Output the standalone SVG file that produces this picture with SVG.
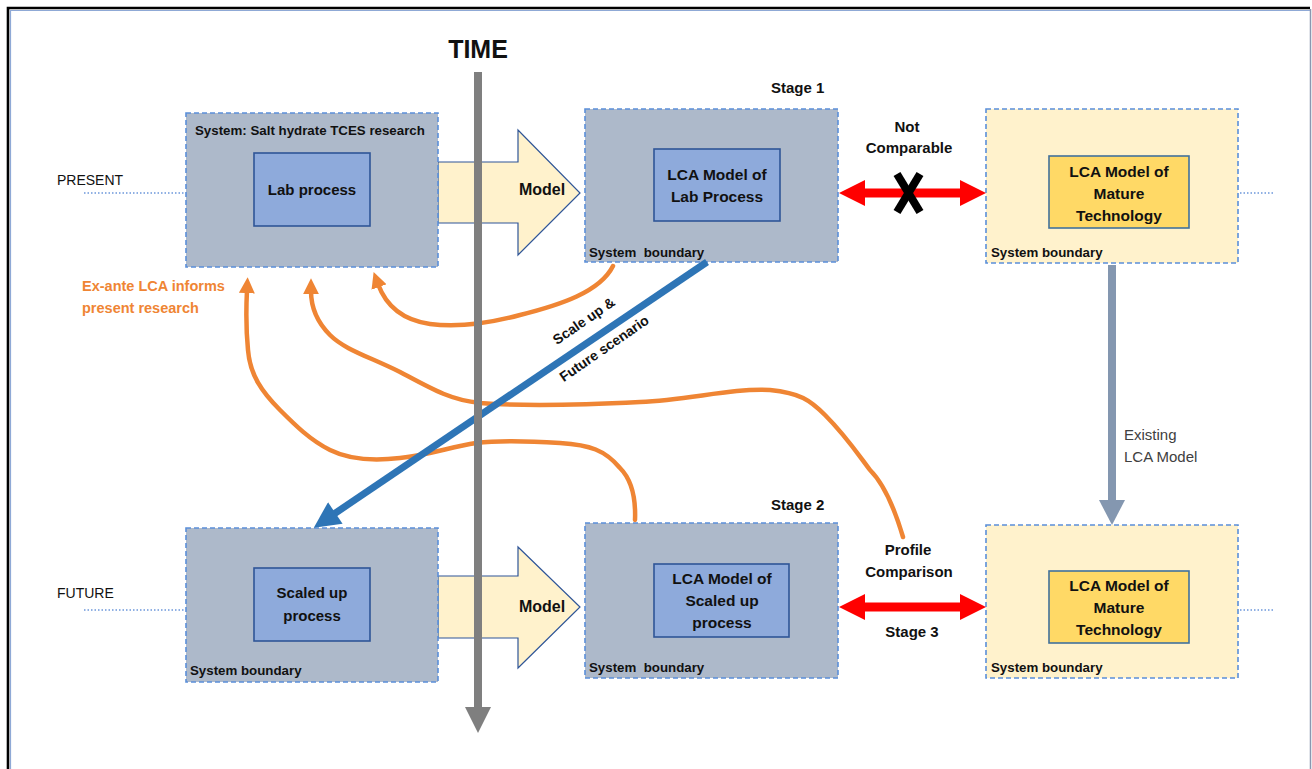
<svg xmlns="http://www.w3.org/2000/svg" width="1312" height="769" viewBox="0 0 1312 769">
<defs>
<style>
.t{font-family:"Liberation Sans",Arial,sans-serif;fill:#111}
.b{font-weight:bold}
.sb{fill:#adb9ca;stroke:#5b8fd9;stroke-width:1.6;stroke-dasharray:5 3}
.yb{fill:#fff2cc;stroke:#5b8fd9;stroke-width:1.6;stroke-dasharray:5 3}
.ib{fill:#8eaadb;stroke:#2f5597;stroke-width:1.6}
.iy{fill:#ffd966;stroke:#41719c;stroke-width:1.6}
.blk{fill:#fff2cc;stroke:#2f5597;stroke-width:1.2}
.dot{stroke:#8fb0e3;stroke-width:2;stroke-dasharray:1.5 2;fill:none}
.or{fill:none;stroke:#ef8534;stroke-width:4.5;stroke-linecap:round;stroke-linejoin:round}
.red{fill:#ff0000}
</style>
<marker id="oa" viewBox="0 0 10 10" refX="2" refY="5" orient="auto" markerUnits="userSpaceOnUse" markerWidth="16" markerHeight="16">
<path d="M0,0 L10,5 L0,10 z" fill="#ef8534"/>
</marker>
<marker id="ba" viewBox="0 0 10 10" refX="2" refY="5" orient="auto" markerUnits="userSpaceOnUse" markerWidth="28" markerHeight="26">
<path d="M0,0 L10,5 L0,10 z" fill="#2e75b6"/>
</marker>
</defs>
<rect x="0" y="0" width="1312" height="769" fill="#ffffff"/>
<!-- frame -->
<path d="M8,790 L8,8 L1310,8" fill="none" stroke="#000" stroke-width="2.6"/>
<path d="M10.5,790 L10.5,10.5 L1310,10.5" fill="none" stroke="#8fa9d6" stroke-width="1.2"/>
<line x1="1310.5" y1="9" x2="1310.5" y2="769" stroke="#8a97b0" stroke-width="1.5"/>

<g id="time-label"><text class="t b" x="478" y="58" font-size="25" text-anchor="middle">TIME</text></g>
<g id="present-label">
<text class="t" x="57" y="185" font-size="14">PRESENT</text>
<line class="dot" x1="84" y1="193" x2="185" y2="193"/>
</g>
<g id="future-label">
<text class="t" x="57" y="598" font-size="14">FUTURE</text>
<line class="dot" x1="84" y1="610" x2="185" y2="610"/>
</g>

<!-- model block arrows -->
<g id="model-arrow-1">
<path class="blk" d="M438,162 L518,162 L518,130 L580,193 L518,255 L518,223 L438,223 Z"/>
<text class="t b" x="542" y="195" font-size="16" text-anchor="middle">Model</text>
</g>
<g id="model-arrow-2">
<path class="blk" d="M438,576 L518,576 L518,547 L580,607 L518,668 L518,638 L438,638 Z"/>
<text class="t b" x="542" y="612" font-size="16" text-anchor="middle">Model</text>
</g>

<g id="lab-system">
<rect class="sb" x="186" y="113" width="252" height="154"/>
<text class="t b" x="195" y="135" font-size="13.3">System: Salt hydrate TCES research</text>
<rect class="ib" x="254" y="153" width="116" height="73"/>
<text class="t b" x="312" y="195" font-size="15" text-anchor="middle">Lab process</text>
</g>

<g id="stage1">
<text class="t b" x="771" y="93" font-size="15">Stage 1</text>
<rect class="sb" x="585" y="109" width="253" height="153"/>
<rect class="ib" x="654" y="149" width="126" height="72"/>
<text class="t b" x="717" y="180" font-size="15.5" text-anchor="middle">LCA Model of</text>
<text class="t b" x="717" y="202" font-size="15.5" text-anchor="middle">Lab Process</text>
<text class="t b" x="589" y="257" font-size="13.3" style="white-space:pre">System  boundary</text>
</g>

<g id="mature-top">
<rect class="yb" x="986" y="109" width="252" height="154"/>
<rect class="iy" x="1049" y="156" width="140" height="72"/>
<text class="t b" x="1119" y="177" font-size="15.5" text-anchor="middle">LCA Model of</text>
<text class="t b" x="1119" y="199" font-size="15.5" text-anchor="middle">Mature</text>
<text class="t b" x="1119" y="221" font-size="15.5" text-anchor="middle">Technology</text>
<text class="t b" x="991" y="257" font-size="13.3">System boundary</text>
<line class="dot" x1="1240" y1="193" x2="1275" y2="193"/>
</g>

<g id="scaled-system">
<rect class="sb" x="186" y="528" width="252" height="154"/>
<rect class="ib" x="254" y="568" width="116" height="73"/>
<text class="t b" x="312" y="598" font-size="15" text-anchor="middle">Scaled up</text>
<text class="t b" x="312" y="621" font-size="15" text-anchor="middle">process</text>
<text class="t b" x="190" y="675" font-size="13.3">System boundary</text>
</g>

<g id="stage2">
<text class="t b" x="771" y="510" font-size="15">Stage 2</text>
<rect class="sb" x="585" y="523" width="253" height="155"/>
<rect class="ib" x="654" y="564" width="135" height="73"/>
<text class="t b" x="722" y="584" font-size="15.5" text-anchor="middle">LCA Model of</text>
<text class="t b" x="722" y="606" font-size="15.5" text-anchor="middle">Scaled up</text>
<text class="t b" x="722" y="628" font-size="15.5" text-anchor="middle">process</text>
<text class="t b" x="589" y="672" font-size="13.3" style="white-space:pre">System  boundary</text>
</g>

<g id="mature-bottom">
<rect class="yb" x="986" y="525" width="252" height="153"/>
<rect class="iy" x="1049" y="571" width="140" height="72"/>
<text class="t b" x="1119" y="591" font-size="15.5" text-anchor="middle">LCA Model of</text>
<text class="t b" x="1119" y="613" font-size="15.5" text-anchor="middle">Mature</text>
<text class="t b" x="1119" y="635" font-size="15.5" text-anchor="middle">Technology</text>
<text class="t b" x="991" y="672" font-size="13.3">System boundary</text>
<line class="dot" x1="1240" y1="610" x2="1275" y2="610"/>
</g>

<g id="connectors">
<!-- orange feedback curves -->
<path class="or" marker-end="url(#oa)" d="M613,266 C600,292 560,305 520,315 C490,323 460,328 430,324 C402,320 386,306 378,284"/>
<path class="or" marker-end="url(#oa)" d="M903,537 C895,510 885,485 870,470 C855,450 845,435 825,415 C810,400 800,393 770,390 C730,388 690,400 640,402 C580,405 520,406 480,403 C450,400 430,388 400,372 C370,357 345,350 330,335 C315,320 311,305 311,291"/>
<path class="or" marker-end="url(#oa)" d="M635,520 C636,495 630,478 620,468 C605,450 590,445 560,443 C530,441 500,440 476,443 C450,447 430,455 400,458 C375,461 350,460 330,450 C310,440 295,425 280,410 C262,392 250,375 248,350 C246,330 246,310 247,290"/>
<!-- blue scale-up arrow -->
<line x1="707" y1="262" x2="331" y2="516" stroke="#2e75b6" stroke-width="7" marker-end="url(#ba)"/>
<!-- time axis -->
<rect x="474" y="72" width="8" height="638" fill="#7f7f7f"/>
<path d="M465,707 L491,707 L478,733 Z" fill="#7f7f7f"/>
<!-- existing LCA model arrow -->
<rect x="1108" y="265" width="8" height="238" fill="#8497b0"/>
<path d="M1099,500 L1125,500 L1112,525 Z" fill="#8497b0"/>
<!-- red double arrows -->
<path class="red" d="M839,193 L865,180 L865,188.5 L960,188.5 L960,180 L986,193 L960,206 L960,197.5 L865,197.5 L865,206 Z"/>
<path class="red" d="M839,607 L865,594 L865,602.5 L960,602.5 L960,594 L986,607 L960,620 L960,611.5 L865,611.5 L865,620 Z"/>
<!-- not comparable X -->
<g stroke="#000" stroke-width="8" stroke-linecap="butt">
<line x1="897" y1="174" x2="920" y2="212"/>
<line x1="920" y1="174" x2="897" y2="212"/>
</g>
</g>

<g id="labels">
<text class="t b" x="907" y="132" font-size="15" text-anchor="middle">Not</text>
<text class="t b" x="909" y="153" font-size="15" text-anchor="middle">Comparable</text>
<text class="t b" x="908" y="555" font-size="15" text-anchor="middle">Profile</text>
<text class="t b" x="909" y="577" font-size="15" text-anchor="middle">Comparison</text>
<text class="t b" x="912" y="637" font-size="15" text-anchor="middle">Stage 3</text>
<text class="t" x="1124" y="440" font-size="15" fill="#404040" style="fill:#404040">Existing</text>
<text class="t" x="1124" y="462" font-size="15" style="fill:#404040">LCA Model</text>
<text class="t b" x="82" y="291" font-size="14.5" style="fill:#ef8534">Ex-ante LCA informs</text>
<text class="t b" x="82" y="313" font-size="14.5" style="fill:#ef8534">present research</text>
<g transform="translate(583.7,320.7) rotate(-34.7)"><text class="t b" x="0" y="5" font-size="14" text-anchor="middle">Scale up &amp;</text></g>
<g transform="translate(604,348.3) rotate(-34.7)"><text class="t b" x="0" y="5" font-size="14" text-anchor="middle">Future scenario</text></g>
</g>
</svg>
